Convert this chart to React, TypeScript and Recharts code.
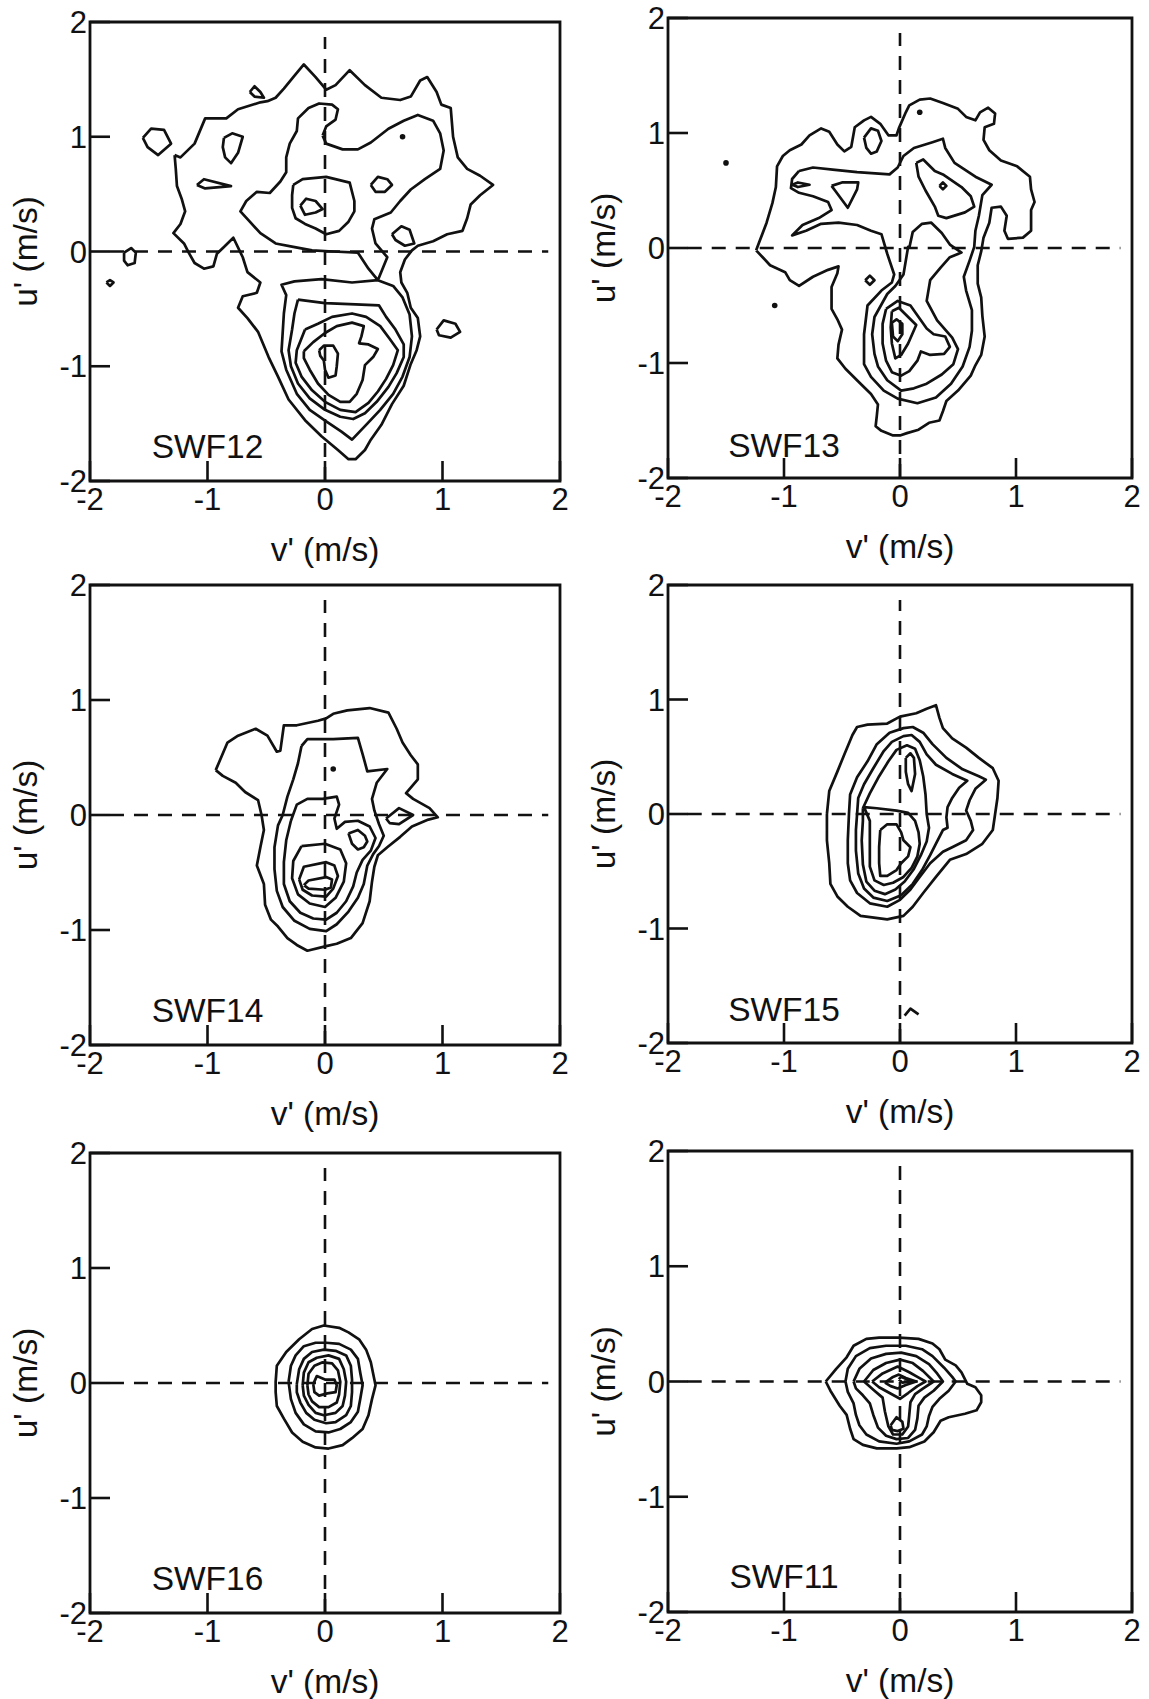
import React from "react";
import {
  ScatterChart,
  Scatter,
  XAxis,
  YAxis,
  ReferenceLine,
  ReferenceArea,
  ReferenceDot,
} from "recharts";

type Pt = [number, number];

const TICKS = [-2, -1, 0, 1, 2];
const FONT = "'Liberation Sans', Arial, Helvetica, sans-serif";
const INK = "#111";

// ---------- SWF12 ----------
const swf12Outer: Pt[] = [
  [-1.28, 0.84], [-1.23, 0.82], [-1.11, 0.94], [-1.02, 1.16], [-0.84, 1.16], [-0.74, 1.24],
  [-0.55, 1.3], [-0.49, 1.31], [-0.42, 1.34], [-0.35, 1.42], [-0.27, 1.52], [-0.18, 1.63],
  [-0.08, 1.52], [0.01, 1.41], [0.09, 1.45], [0.21, 1.58], [0.34, 1.45], [0.48, 1.34],
  [0.64, 1.32], [0.73, 1.35], [0.81, 1.49], [0.87, 1.52], [0.95, 1.39], [0.99, 1.28],
  [1.07, 1.25], [1.09, 1.0], [1.13, 0.82], [1.21, 0.72], [1.32, 0.66], [1.43, 0.58],
  [1.32, 0.49], [1.24, 0.41], [1.21, 0.29], [1.17, 0.18], [1.04, 0.15], [0.92, 0.09],
  [0.79, 0.05], [0.74, 0.01], [0.68, -0.07], [0.64, -0.18], [0.65, -0.27], [0.7, -0.36],
  [0.73, -0.49], [0.79, -0.58], [0.81, -0.74], [0.78, -0.86], [0.73, -0.98], [0.67, -1.17],
  [0.57, -1.33], [0.48, -1.51], [0.39, -1.64], [0.34, -1.73], [0.26, -1.81], [0.2, -1.81],
  [0.11, -1.73], [-0.03, -1.61], [-0.17, -1.47], [-0.31, -1.29], [-0.4, -1.09], [-0.48, -0.92],
  [-0.57, -0.7], [-0.66, -0.58], [-0.74, -0.49], [-0.7, -0.39], [-0.58, -0.36], [-0.55, -0.27],
  [-0.66, -0.18], [-0.7, -0.05], [-0.78, 0.12], [-0.86, 0.04], [-0.92, -0.02], [-0.95, -0.13],
  [-1.03, -0.15], [-1.11, -0.1], [-1.16, -0.01], [-1.2, 0.07], [-1.29, 0.16], [-1.23, 0.24],
  [-1.19, 0.35], [-1.22, 0.46], [-1.26, 0.57], [-1.27, 0.72],
];
const swf12Ring2: Pt[] = [
  [-0.02, 1.01], [0.01, 1.09], [0.09, 1.15], [0.11, 1.24], [0.06, 1.28], [-0.05, 1.29],
  [-0.14, 1.25], [-0.23, 1.16], [-0.24, 1.05], [-0.3, 0.94], [-0.33, 0.82], [-0.33, 0.69],
  [-0.38, 0.61], [-0.47, 0.51], [-0.58, 0.52], [-0.67, 0.44], [-0.72, 0.35], [-0.64, 0.26],
  [-0.55, 0.16], [-0.42, 0.07], [-0.27, 0.04], [-0.11, 0.01], [0.07, 0.0], [0.28, -0.01],
  [0.37, -0.15], [0.45, -0.25], [0.58, -0.3], [0.66, -0.4], [0.72, -0.55], [0.74, -0.74],
  [0.72, -0.92], [0.66, -1.09], [0.58, -1.24], [0.47, -1.38], [0.36, -1.5], [0.23, -1.64],
  [0.14, -1.57], [0.01, -1.48], [-0.13, -1.38], [-0.24, -1.24], [-0.33, -1.03], [-0.37, -0.87],
  [-0.35, -0.54], [-0.33, -0.38], [-0.37, -0.29], [-0.26, -0.26], [-0.03, -0.24], [0.23, -0.27],
  [0.45, -0.25], [0.53, -0.05], [0.43, 0.07], [0.4, 0.2], [0.42, 0.28], [0.56, 0.34],
  [0.64, 0.44], [0.73, 0.54], [0.85, 0.63], [0.98, 0.72], [1.01, 0.88], [0.98, 1.03],
  [0.92, 1.14], [0.79, 1.19], [0.67, 1.14], [0.54, 1.07], [0.39, 0.95], [0.28, 0.89],
  [0.15, 0.89], [0.01, 0.94],
];
const swf12UpperRing: Pt[] = [
  [-0.27, 0.58], [-0.19, 0.63], [0.01, 0.65], [0.21, 0.6], [0.25, 0.44], [0.25, 0.35],
  [0.2, 0.26], [0.12, 0.18], [0.01, 0.15], [-0.08, 0.2], [-0.17, 0.24], [-0.25, 0.29],
  [-0.28, 0.38], [-0.28, 0.49],
];
const swf12UpperCore: Pt[] = [
  [-0.21, 0.4], [-0.16, 0.46], [-0.08, 0.44], [-0.02, 0.37], [-0.08, 0.34], [-0.17, 0.32],
];
const swf12Ring3: Pt[] = [
  [-0.23, -0.42], [0.0, -0.45], [0.26, -0.46], [0.46, -0.47], [0.52, -0.57], [0.6, -0.68],
  [0.67, -0.81], [0.67, -0.92], [0.61, -1.06], [0.54, -1.18], [0.44, -1.31], [0.34, -1.41],
  [0.24, -1.46], [0.13, -1.44], [0.0, -1.38], [-0.13, -1.28], [-0.23, -1.15], [-0.29, -1.0],
  [-0.31, -0.86], [-0.28, -0.68], [-0.26, -0.54],
];
const swf12Ring4: Pt[] = [
  [-0.17, -0.68], [-0.06, -0.63], [0.06, -0.57], [0.23, -0.54], [0.35, -0.57], [0.47, -0.65],
  [0.55, -0.76], [0.62, -0.86], [0.58, -0.99], [0.52, -1.11], [0.45, -1.22], [0.37, -1.32],
  [0.26, -1.4], [0.13, -1.38], [0.0, -1.31], [-0.11, -1.21], [-0.2, -1.09], [-0.25, -0.97],
  [-0.24, -0.86],
];
const swf12Ring5: Pt[] = [
  [-0.18, -0.87], [-0.1, -0.79], [0.0, -0.71], [0.1, -0.65], [0.23, -0.62], [0.33, -0.65],
  [0.31, -0.74], [0.29, -0.8], [0.37, -0.81], [0.45, -0.85], [0.41, -0.92], [0.34, -0.99],
  [0.32, -1.12], [0.27, -1.24], [0.21, -1.31], [0.13, -1.31], [0.03, -1.25], [-0.06, -1.15],
  [-0.13, -1.03], [-0.18, -0.93],
];
const swf12Core: Pt[] = [
  [-0.05, -0.86], [-0.01, -0.82], [0.07, -0.82], [0.11, -0.89], [0.1, -1.0], [0.09, -1.08],
  [0.03, -1.1], [0.0, -1.03], [-0.01, -0.95], [-0.04, -0.91],
];
const swf12Islands: Pt[][] = [
  [[-1.55, 0.99], [-1.48, 1.07], [-1.37, 1.06], [-1.31, 0.94], [-1.42, 0.84], [-1.51, 0.91]],
  [[-0.86, 0.99], [-0.79, 1.03], [-0.7, 1.0], [-0.74, 0.86], [-0.8, 0.77], [-0.85, 0.82], [-0.87, 0.91]],
  [[-0.64, 1.39], [-0.6, 1.44], [-0.55, 1.39], [-0.52, 1.34], [-0.6, 1.35]],
  [[-1.09, 0.58], [-1.03, 0.63], [-0.8, 0.57], [-1.02, 0.55]],
  [[-1.71, -0.01], [-1.65, 0.03], [-1.61, -0.01], [-1.62, -0.1], [-1.68, -0.12], [-1.71, -0.08]],
  [[-1.86, -0.27], [-1.83, -0.25], [-1.8, -0.27], [-1.83, -0.3]],
  [[0.39, 0.58], [0.45, 0.65], [0.53, 0.63], [0.57, 0.58], [0.51, 0.52], [0.43, 0.52]],
  [[0.57, 0.15], [0.65, 0.22], [0.72, 0.19], [0.76, 0.07], [0.68, 0.05], [0.6, 0.1]],
  [[0.95, -0.68], [1.01, -0.6], [1.11, -0.63], [1.15, -0.7], [1.07, -0.75], [0.97, -0.73]],
];
const swf12Dots: Pt[] = [[0.66, 1.0]];

// ---------- SWF13 ----------
const swf13Outer: Pt[] = [
  [-1.24, -0.02], [-1.21, 0.06], [-1.15, 0.22], [-1.1, 0.39], [-1.07, 0.53], [-1.06, 0.71],
  [-1.01, 0.8], [-0.95, 0.85], [-0.85, 0.9], [-0.78, 0.98], [-0.68, 1.04], [-0.61, 1.01],
  [-0.54, 0.9], [-0.48, 0.84], [-0.42, 0.88], [-0.39, 1.05], [-0.31, 1.11], [-0.25, 1.14],
  [-0.17, 1.08], [-0.1, 0.98], [-0.03, 0.98], [-0.01, 1.04], [0.05, 1.18], [0.08, 1.24],
  [0.17, 1.29], [0.26, 1.3], [0.37, 1.26], [0.5, 1.21], [0.57, 1.14], [0.65, 1.11],
  [0.69, 1.18], [0.76, 1.22], [0.82, 1.17], [0.81, 1.08], [0.73, 1.05], [0.72, 0.94],
  [0.77, 0.85], [0.87, 0.76], [1.01, 0.71], [1.12, 0.62], [1.13, 0.51], [1.16, 0.4],
  [1.13, 0.33], [1.13, 0.15], [1.06, 0.09], [0.93, 0.08], [0.9, 0.15], [0.92, 0.28],
  [0.87, 0.36], [0.79, 0.35], [0.77, 0.22], [0.72, 0.09], [0.7, -0.03], [0.67, -0.15],
  [0.67, -0.31], [0.7, -0.43], [0.71, -0.59], [0.73, -0.77], [0.7, -0.93], [0.65, -1.02],
  [0.61, -1.11], [0.5, -1.24], [0.4, -1.33], [0.37, -1.42], [0.34, -1.5], [0.25, -1.52],
  [0.16, -1.58], [0.06, -1.61], [0.0, -1.63], [-0.06, -1.63], [-0.16, -1.59], [-0.21, -1.55],
  [-0.2, -1.46], [-0.19, -1.36], [-0.25, -1.27], [-0.34, -1.18], [-0.47, -1.05], [-0.54, -0.96],
  [-0.53, -0.84], [-0.5, -0.71], [-0.54, -0.62], [-0.59, -0.53], [-0.59, -0.34], [-0.54, -0.22],
  [-0.53, -0.16], [-0.62, -0.19], [-0.75, -0.25], [-0.87, -0.33], [-0.95, -0.28], [-0.99, -0.21],
  [-1.12, -0.15],
];
const swf13Ring2: Pt[] = [
  [-0.87, 0.67], [-0.75, 0.7], [-0.56, 0.68], [-0.37, 0.66], [-0.09, 0.64], [-0.02, 0.7],
  [0.03, 0.8], [0.12, 0.87], [0.28, 0.92], [0.37, 0.95], [0.39, 0.87], [0.47, 0.74],
  [0.65, 0.62], [0.79, 0.55], [0.71, 0.46], [0.68, 0.28], [0.65, 0.15], [0.64, 0.01],
  [0.6, -0.11], [0.55, -0.25], [0.57, -0.37], [0.62, -0.54], [0.62, -0.72], [0.6, -0.86],
  [0.54, -1.03], [0.44, -1.18], [0.31, -1.3], [0.15, -1.35], [-0.02, -1.31], [-0.14, -1.24],
  [-0.25, -1.12], [-0.31, -1.01], [-0.31, -0.75], [-0.28, -0.5], [-0.16, -0.37], [-0.07, -0.3],
  [-0.05, -0.23], [-0.11, -0.05], [-0.16, 0.12], [-0.25, 0.15], [-0.37, 0.2], [-0.53, 0.22],
  [-0.68, 0.21], [-0.81, 0.15], [-0.93, 0.11], [-0.84, 0.2], [-0.7, 0.26], [-0.59, 0.33],
  [-0.62, 0.4], [-0.75, 0.45], [-0.87, 0.48], [-0.94, 0.52], [-0.93, 0.6],
];
const swf13UpperRight: Pt[] = [
  [0.14, 0.74], [0.2, 0.77], [0.3, 0.67], [0.37, 0.64], [0.53, 0.53], [0.61, 0.45],
  [0.64, 0.36], [0.56, 0.31], [0.4, 0.26], [0.33, 0.28], [0.3, 0.36], [0.22, 0.5], [0.16, 0.62],
];
const swf13Ring3: Pt[] = [
  [0.08, 0.0], [0.11, 0.14], [0.19, 0.21], [0.27, 0.22], [0.36, 0.13], [0.43, 0.03],
  [0.53, -0.04], [0.43, -0.08], [0.35, -0.17], [0.26, -0.28], [0.23, -0.46], [0.32, -0.63],
  [0.45, -0.78], [0.5, -0.88], [0.46, -1.01], [0.36, -1.1], [0.23, -1.18], [0.12, -1.22],
  [0.01, -1.24], [-0.11, -1.15], [-0.19, -1.03], [-0.22, -0.92], [-0.24, -0.75], [-0.22, -0.6],
  [-0.11, -0.4], [-0.04, -0.33], [0.03, -0.23], [0.07, 0.01],
];
const swf13Heart: Pt[] = [
  [-0.12, -0.53], [-0.02, -0.46], [0.09, -0.5], [0.16, -0.6], [0.23, -0.7], [0.29, -0.75],
  [0.39, -0.77], [0.43, -0.86], [0.38, -0.92], [0.26, -0.93], [0.18, -0.9], [0.15, -0.98],
  [0.08, -1.07], [0.01, -1.11], [-0.07, -1.08], [-0.12, -0.98], [-0.15, -0.83], [-0.15, -0.66],
];
const swf13Tri: Pt[] = [
  [-0.07, -0.55], [-0.01, -0.52], [0.14, -0.67], [0.07, -0.83], [0.01, -0.93], [-0.04, -0.96],
  [-0.07, -0.83], [-0.08, -0.69],
];
const swf13Core: Pt[] = [
  [-0.07, -0.65], [-0.03, -0.62], [0.02, -0.66], [0.02, -0.75], [-0.02, -0.81], [-0.06, -0.77],
];
const swf13Islands: Pt[][] = [
  [[0.34, 0.54], [0.37, 0.57], [0.4, 0.54], [0.37, 0.51]],
  [[-0.59, 0.54], [-0.5, 0.57], [-0.36, 0.57], [-0.37, 0.51], [-0.45, 0.35], [-0.56, 0.5]],
  [[-0.93, 0.55], [-0.88, 0.57], [-0.78, 0.55], [-0.88, 0.53]],
  [[-0.31, 0.96], [-0.25, 1.04], [-0.19, 1.02], [-0.16, 0.93], [-0.2, 0.84], [-0.25, 0.82], [-0.29, 0.87]],
  [[-0.3, -0.28], [-0.26, -0.24], [-0.22, -0.28], [-0.26, -0.32]],
];
const swf13Dots: Pt[] = [[-1.5, 0.74], [-1.08, -0.5], [0.17, 1.18]];

// ---------- SWF14 ----------
const swf14Outer: Pt[] = [
  [-0.93, 0.39], [-0.83, 0.63], [-0.74, 0.69], [-0.59, 0.75], [-0.49, 0.69], [-0.41, 0.55],
  [-0.38, 0.56], [-0.35, 0.78], [-0.24, 0.78], [-0.06, 0.82], [0.01, 0.84], [0.07, 0.88],
  [0.19, 0.91], [0.38, 0.93], [0.54, 0.89], [0.61, 0.75], [0.66, 0.63], [0.73, 0.52],
  [0.79, 0.44], [0.79, 0.31], [0.69, 0.19], [0.75, 0.14], [0.89, 0.06], [0.96, -0.02],
  [0.88, -0.04], [0.74, -0.1], [0.64, -0.19], [0.53, -0.28], [0.45, -0.35], [0.42, -0.45],
  [0.4, -0.58], [0.38, -0.75], [0.32, -0.94], [0.22, -1.07], [0.1, -1.12], [0.01, -1.14],
  [-0.15, -1.18], [-0.24, -1.13], [-0.32, -1.07], [-0.4, -0.97], [-0.46, -0.91], [-0.51, -0.78],
  [-0.52, -0.6], [-0.58, -0.44], [-0.55, -0.28], [-0.52, -0.13], [-0.54, 0.0], [-0.57, 0.13],
  [-0.68, 0.2], [-0.76, 0.28], [-0.87, 0.34],
];
const swf14Ring2: Pt[] = [
  [-0.2, 0.6], [-0.15, 0.66], [0.07, 0.66], [0.28, 0.67], [0.32, 0.53], [0.36, 0.38],
  [0.53, 0.4], [0.44, 0.28], [0.4, 0.14], [0.42, 0.04], [0.46, -0.08], [0.5, -0.18],
  [0.46, -0.27], [0.41, -0.34], [0.36, -0.44], [0.33, -0.6], [0.28, -0.72], [0.2, -0.84],
  [0.1, -0.95], [0.01, -1.01], [-0.13, -0.99], [-0.26, -0.92], [-0.36, -0.8], [-0.41, -0.66],
  [-0.43, -0.47], [-0.43, -0.28], [-0.4, -0.09], [-0.36, 0.0], [-0.32, 0.16], [-0.27, 0.31],
  [-0.23, 0.45],
];
const swf14Ring3: Pt[] = [
  [-0.29, -0.05], [-0.24, 0.09], [-0.15, 0.14], [-0.02, 0.14], [0.1, 0.16], [0.12, 0.09],
  [0.08, -0.03], [0.1, -0.12], [0.17, -0.06], [0.28, -0.05], [0.38, -0.1], [0.43, -0.2],
  [0.39, -0.31], [0.32, -0.39], [0.27, -0.5], [0.24, -0.62], [0.18, -0.75], [0.1, -0.85],
  [0.01, -0.91], [-0.1, -0.9], [-0.21, -0.85], [-0.3, -0.75], [-0.35, -0.6], [-0.35, -0.41],
  [-0.33, -0.22],
];
const swf14Ring4: Pt[] = [
  [-0.2, -0.27], [0.0, -0.25], [0.13, -0.3], [0.18, -0.42], [0.16, -0.58], [0.09, -0.72],
  [0.0, -0.8], [-0.13, -0.77], [-0.23, -0.69], [-0.28, -0.55], [-0.27, -0.4],
];
const swf14Ring5: Pt[] = [
  [-0.22, -0.56], [-0.18, -0.45], [0.01, -0.41], [0.08, -0.44], [0.11, -0.53], [0.07, -0.64],
  [0.01, -0.71], [-0.11, -0.7], [-0.19, -0.65],
];
const swf14Core: Pt[] = [
  [-0.18, -0.61], [-0.14, -0.57], [0.01, -0.54], [0.06, -0.56], [0.05, -0.63], [0.0, -0.65],
  [-0.14, -0.64],
];
const swf14Islands: Pt[][] = [
  [[0.52, -0.03], [0.63, 0.06], [0.75, 0.0], [0.63, -0.08], [0.55, -0.07]],
  [[0.2, -0.16], [0.28, -0.13], [0.34, -0.18], [0.36, -0.23], [0.33, -0.28], [0.28, -0.3], [0.23, -0.25]],
];
const swf14Dots: Pt[] = [[0.07, 0.4]];

// ---------- SWF15 ----------
const swf15Outer: Pt[] = [
  [-0.63, 0.0], [-0.61, 0.2], [-0.54, 0.37], [-0.48, 0.52], [-0.41, 0.69], [-0.37, 0.76],
  [-0.28, 0.78], [-0.11, 0.79], [0.0, 0.85], [0.14, 0.88], [0.23, 0.92], [0.31, 0.95],
  [0.34, 0.84], [0.37, 0.75], [0.45, 0.66], [0.57, 0.58], [0.68, 0.49], [0.8, 0.4],
  [0.85, 0.29], [0.84, 0.14], [0.82, 0.0], [0.8, -0.14], [0.71, -0.26], [0.57, -0.35],
  [0.43, -0.4], [0.31, -0.55], [0.2, -0.69], [0.11, -0.81], [0.03, -0.89], [-0.11, -0.92],
  [-0.34, -0.89], [-0.45, -0.81], [-0.54, -0.72], [-0.6, -0.61], [-0.61, -0.43], [-0.63, -0.23],
];
const swf15Ring2: Pt[] = [
  [-0.44, 0.0], [-0.43, 0.17], [-0.37, 0.32], [-0.28, 0.46], [-0.2, 0.61], [-0.09, 0.71],
  [0.03, 0.75], [0.11, 0.76], [0.2, 0.71], [0.28, 0.61], [0.4, 0.49], [0.54, 0.39],
  [0.68, 0.33], [0.74, 0.3], [0.65, 0.22], [0.6, 0.12], [0.57, 0.03], [0.61, -0.06],
  [0.63, -0.14], [0.57, -0.23], [0.45, -0.29], [0.37, -0.33], [0.26, -0.43], [0.17, -0.55],
  [0.09, -0.66], [0.0, -0.75], [-0.11, -0.81], [-0.26, -0.78], [-0.37, -0.69], [-0.43, -0.58],
  [-0.45, -0.43], [-0.45, -0.23],
];
const swf15Ring3: Pt[] = [
  [-0.37, 0.0], [-0.36, 0.14], [-0.31, 0.26], [-0.23, 0.4], [-0.14, 0.55], [-0.07, 0.63],
  [0.03, 0.68], [0.1, 0.69], [0.17, 0.63], [0.23, 0.52], [0.31, 0.43], [0.45, 0.35],
  [0.58, 0.29], [0.51, 0.23], [0.45, 0.14], [0.41, 0.06], [0.4, -0.03], [0.41, -0.12],
  [0.37, -0.14], [0.32, -0.24], [0.26, -0.36], [0.19, -0.49], [0.11, -0.61], [0.01, -0.71],
  [-0.11, -0.76], [-0.23, -0.73], [-0.31, -0.65], [-0.36, -0.52], [-0.38, -0.32], [-0.38, -0.14],
];
const swf15Ring4: Pt[] = [
  [-0.32, 0.05], [-0.26, 0.18], [-0.18, 0.33], [-0.1, 0.46], [-0.03, 0.56], [0.06, 0.6],
  [0.13, 0.57], [0.17, 0.47], [0.2, 0.33], [0.22, 0.17], [0.23, 0.0], [0.25, -0.12],
  [0.23, -0.24], [0.18, -0.36], [0.12, -0.48], [0.04, -0.59], [-0.04, -0.66], [-0.13, -0.7],
  [-0.22, -0.67], [-0.29, -0.59], [-0.32, -0.44], [-0.33, -0.23], [-0.32, -0.06],
];
const swf15Ring5: Pt[] = [
  [-0.31, 0.06], [-0.2, 0.05], [-0.03, 0.03], [0.07, 0.01], [0.13, -0.06], [0.16, -0.16],
  [0.17, -0.26], [0.15, -0.37], [0.1, -0.47], [0.03, -0.55], [-0.06, -0.6], [-0.14, -0.62],
  [-0.22, -0.58], [-0.26, -0.46], [-0.26, -0.32], [-0.26, -0.17], [-0.26, -0.06],
];
const swf15Core: Pt[] = [
  [-0.17, -0.14], [-0.11, -0.09], [-0.03, -0.09], [0.01, -0.16], [0.03, -0.23], [0.09, -0.29],
  [0.07, -0.37], [0.01, -0.43], [-0.03, -0.49], [-0.11, -0.54], [-0.17, -0.54], [-0.18, -0.43],
  [-0.18, -0.29],
];
const swf15UpperCore: Pt[] = [
  [0.05, 0.49], [0.09, 0.53], [0.12, 0.49], [0.13, 0.35], [0.1, 0.2], [0.07, 0.26], [0.05, 0.37],
];
const swf15Caret: Pt[] = [[0.04, -1.76], [0.09, -1.7], [0.16, -1.75]];

// ---------- SWF16 ----------
const swf16Outer: Pt[] = [
  [-0.42, 0.01], [-0.41, 0.15], [-0.33, 0.27], [-0.22, 0.38], [-0.11, 0.47], [-0.01, 0.5],
  [0.12, 0.48], [0.2, 0.44], [0.29, 0.38], [0.35, 0.29], [0.39, 0.18], [0.42, 0.03],
  [0.43, -0.02], [0.4, -0.14], [0.37, -0.28], [0.32, -0.4], [0.23, -0.48], [0.15, -0.54],
  [0.03, -0.57], [-0.08, -0.56], [-0.19, -0.51], [-0.28, -0.43], [-0.35, -0.31], [-0.41, -0.2],
  [-0.42, -0.08],
];
const swf16Ring2: Pt[] = [
  [-0.31, 0.01], [-0.29, 0.15], [-0.25, 0.24], [-0.18, 0.32], [-0.08, 0.35], [0.01, 0.35],
  [0.12, 0.34], [0.22, 0.29], [0.28, 0.21], [0.3, 0.09], [0.32, -0.02], [0.3, -0.14],
  [0.28, -0.25], [0.22, -0.34], [0.13, -0.4], [0.03, -0.43], [-0.08, -0.42], [-0.18, -0.36],
  [-0.25, -0.26], [-0.29, -0.14],
];
const swf16Ring3: Pt[] = [
  [-0.24, -0.01], [-0.22, 0.12], [-0.18, 0.21], [-0.11, 0.27], [-0.01, 0.29], [0.09, 0.28],
  [0.18, 0.24], [0.22, 0.15], [0.23, 0.03], [0.23, -0.08], [0.22, -0.2], [0.18, -0.28],
  [0.09, -0.34], [0.01, -0.35], [-0.09, -0.32], [-0.16, -0.26], [-0.21, -0.17], [-0.24, -0.08],
];
const swf16Ring4: Pt[] = [
  [-0.19, -0.02], [-0.18, 0.09], [-0.14, 0.18], [-0.07, 0.22], [0.03, 0.24], [0.12, 0.21],
  [0.16, 0.12], [0.18, 0.01], [0.17, -0.11], [0.15, -0.2], [0.09, -0.26], [-0.01, -0.28],
  [-0.08, -0.26], [-0.14, -0.19], [-0.18, -0.11],
];
const swf16Ring5: Pt[] = [
  [-0.15, -0.02], [-0.14, 0.08], [-0.09, 0.15], [-0.02, 0.18], [0.06, 0.17], [0.11, 0.11],
  [0.13, 0.01], [0.12, -0.1], [0.1, -0.17], [0.03, -0.21], [-0.05, -0.21], [-0.11, -0.16],
  [-0.14, -0.1],
];
const swf16Core: Pt[] = [
  [-0.1, -0.01], [-0.07, 0.06], [0.0, 0.03], [0.08, 0.03], [0.1, -0.02], [0.09, -0.08],
  [0.02, -0.09], [-0.05, -0.11], [-0.09, -0.08],
];

// ---------- SWF11 ----------
const swf11Outer: Pt[] = [
  [-0.64, 0.0], [-0.55, 0.11], [-0.46, 0.21], [-0.4, 0.31], [-0.29, 0.37], [-0.18, 0.38],
  [-0.01, 0.38], [0.16, 0.37], [0.28, 0.33], [0.34, 0.28], [0.39, 0.19], [0.48, 0.14],
  [0.53, 0.08], [0.58, -0.02], [0.65, -0.05], [0.7, -0.12], [0.7, -0.18], [0.66, -0.25],
  [0.56, -0.28], [0.42, -0.31], [0.35, -0.34], [0.29, -0.44], [0.21, -0.52], [0.08, -0.57],
  [-0.03, -0.58], [-0.2, -0.58], [-0.32, -0.55], [-0.4, -0.5], [-0.43, -0.41], [-0.46, -0.29],
  [-0.52, -0.21], [-0.6, -0.08],
];
const swf11Ring2: Pt[] = [
  [-0.47, 0.0], [-0.45, 0.11], [-0.38, 0.22], [-0.26, 0.29], [-0.12, 0.31], [0.05, 0.31],
  [0.19, 0.28], [0.28, 0.22], [0.38, 0.12], [0.45, 0.04], [0.48, 0.0], [0.42, -0.08],
  [0.34, -0.15], [0.28, -0.22], [0.25, -0.3], [0.23, -0.39], [0.19, -0.46], [0.08, -0.52],
  [-0.03, -0.54], [-0.18, -0.52], [-0.29, -0.46], [-0.35, -0.38], [-0.38, -0.29], [-0.4, -0.19],
  [-0.45, -0.09],
];
const swf11Ring3: Pt[] = [
  [-0.4, 0.0], [-0.35, 0.11], [-0.25, 0.2], [-0.12, 0.24], [0.01, 0.25], [0.14, 0.22],
  [0.25, 0.15], [0.32, 0.07], [0.37, 0.0], [0.29, -0.08], [0.21, -0.14], [0.16, -0.21],
  [0.15, -0.32], [0.13, -0.42], [0.07, -0.49], [-0.03, -0.5], [-0.12, -0.47], [-0.19, -0.4],
  [-0.23, -0.29], [-0.26, -0.19], [-0.32, -0.12], [-0.38, -0.06],
];
const swf11Ring4: Pt[] = [
  [-0.31, 0.0], [-0.23, 0.1], [-0.12, 0.16], [0.0, 0.19], [0.11, 0.16], [0.2, 0.09],
  [0.29, 0.0], [0.2, -0.06], [0.13, -0.11], [0.09, -0.18], [0.08, -0.29], [0.07, -0.39],
  [0.02, -0.46], [-0.06, -0.46], [-0.1, -0.39], [-0.13, -0.26], [-0.15, -0.14], [-0.22, -0.08],
];
const swf11Ring5: Pt[] = [
  [-0.24, 0.0], [-0.15, 0.07], [-0.02, 0.13], [0.08, 0.08], [0.15, 0.04], [0.22, 0.0],
  [0.15, -0.04], [0.07, -0.1], [0.0, -0.15], [-0.09, -0.1], [-0.18, -0.05],
];
const swf11Core: Pt[] = [
  [-0.13, -0.01], [-0.06, 0.04], [-0.01, 0.06], [0.05, 0.03], [0.14, 0.0], [0.05, -0.03],
  [-0.02, -0.06], [-0.08, -0.04],
];
const swf11Inner: Pt[] = [[-0.01, 0.02], [0.01, 0.04], [0.1, 0.0], [0.02, -0.01]];
const swf11Lower: Pt[] = [
  [-0.08, -0.38], [-0.03, -0.31], [0.02, -0.35], [0.03, -0.41], [-0.02, -0.43], [-0.07, -0.42],
];

type PanelSpec = {
  name: string;
  plotLeft: number;
  plotTop: number;
  plotW: number;
  plotH: number;
  labelAt: Pt;
  contours: Pt[][];
  open?: Pt[][];
  dots?: Pt[];
};

const panels: PanelSpec[] = [
  {
    name: "SWF12", plotLeft: 90, plotTop: 22, plotW: 470, plotH: 459, labelAt: [-1.0, -1.7],
    contours: [swf12Outer, swf12Ring2, swf12UpperRing, swf12UpperCore, swf12Ring3, swf12Ring4,
      swf12Ring5, swf12Core, ...swf12Islands],
    dots: swf12Dots,
  },
  {
    name: "SWF13", plotLeft: 668, plotTop: 18, plotW: 464, plotH: 460, labelAt: [-1.0, -1.71],
    contours: [swf13Outer, swf13Ring2, swf13UpperRight, swf13Ring3, swf13Heart, swf13Tri,
      swf13Core, ...swf13Islands],
    dots: swf13Dots,
  },
  {
    name: "SWF14", plotLeft: 90, plotTop: 585, plotW: 470, plotH: 460, labelAt: [-1.0, -1.7],
    contours: [swf14Outer, swf14Ring2, swf14Ring3, swf14Ring4, swf14Ring5, swf14Core, ...swf14Islands],
    dots: swf14Dots,
  },
  {
    name: "SWF15", plotLeft: 668, plotTop: 585, plotW: 464, plotH: 458, labelAt: [-1.0, -1.7],
    contours: [swf15Outer, swf15Ring2, swf15Ring3, swf15Ring4, swf15Ring5, swf15Core, swf15UpperCore],
    open: [swf15Caret],
  },
  {
    name: "SWF16", plotLeft: 90, plotTop: 1153, plotW: 470, plotH: 460, labelAt: [-1.0, -1.7],
    contours: [swf16Outer, swf16Ring2, swf16Ring3, swf16Ring4, swf16Ring5, swf16Core],
  },
  {
    name: "SWF11", plotLeft: 668, plotTop: 1151, plotW: 464, plotH: 461, labelAt: [-1.0, -1.69],
    contours: [swf11Outer, swf11Ring2, swf11Ring3, swf11Ring4, swf11Ring5, swf11Core, swf11Inner,
      swf11Lower],
  },
];

const toXY = (pts: Pt[], close: boolean) =>
  (close ? [...pts, pts[0]] : pts).map(([x, y]) => ({ x, y }));

const lineStyle = { stroke: INK, strokeWidth: 2.7, strokeLinejoin: "round" as const };
const noMarker = () => <g />;
const dotMarker = (props: any) => <circle cx={props.cx} cy={props.cy} r={2.8} fill={INK} />;

const tickStyle = { fill: INK, fontSize: 31, fontFamily: FONT };
const tickLine = { stroke: INK, strokeWidth: 2.6 };

const Panel = ({ p }: { p: PanelSpec }) => {
  const width = p.plotW + 105;
  const height = p.plotH + 114;
  return (
    <div style={{ position: "absolute", left: p.plotLeft - 90, top: p.plotTop - 22 }}>
      <ScatterChart
        width={width}
        height={height}
        margin={{ top: 22, right: 15, bottom: 12, left: 20 }}
      >
        <XAxis
          type="number"
          dataKey="x"
          domain={[-2, 2]}
          ticks={TICKS}
          interval={0}
          axisLine={false}
          tickSize={-20}
          tickMargin={27}
          tickLine={tickLine}
          tick={tickStyle}
          height={80}
          label={{
            value: "v' (m/s)",
            position: "insideBottom",
            offset: 0,
            fill: INK,
            fontSize: 33.5,
            fontFamily: FONT,
          }}
        />
        <YAxis
          type="number"
          dataKey="y"
          domain={[-2, 2]}
          ticks={TICKS}
          interval={0}
          axisLine={false}
          tickSize={-20}
          tickMargin={23}
          tickLine={tickLine}
          tick={tickStyle}
          width={70}
          label={{
            value: "u' (m/s)",
            angle: -90,
            position: "insideLeft",
            offset: 5,
            fill: INK,
            fontSize: 33.5,
            fontFamily: FONT,
            style: { textAnchor: "middle" },
          }}
        />
        <ReferenceArea x1={-2} x2={2} y1={-2} y2={2} fill="none" stroke={INK} strokeWidth={2.8} />
        <ReferenceLine
          segment={[{ x: 0, y: -2 }, { x: 0, y: 1.87 }]}
          stroke={INK}
          strokeWidth={2.6}
          strokeDasharray="14 10"
        />
        <ReferenceLine
          segment={[{ x: -1.83, y: 0 }, { x: 1.9, y: 0 }]}
          stroke={INK}
          strokeWidth={2.6}
          strokeDasharray="14 10"
        />
        {p.contours.map((c, i) => (
          <Scatter
            key={`c${i}`}
            data={toXY(c, true)}
            line={lineStyle}
            lineType="joint"
            shape={noMarker}
            isAnimationActive={false}
          />
        ))}
        {(p.open || []).map((c, i) => (
          <Scatter
            key={`o${i}`}
            data={toXY(c, false)}
            line={lineStyle}
            lineType="joint"
            shape={noMarker}
            isAnimationActive={false}
          />
        ))}
        {p.dots && (
          <Scatter
            data={toXY(p.dots, false)}
            shape={dotMarker}
            isAnimationActive={false}
          />
        )}
        <ReferenceDot
          x={p.labelAt[0]}
          y={p.labelAt[1]}
          r={0}
          fill="none"
          stroke="none"
          label={{ value: p.name, position: "center", fill: INK, fontSize: 33.5, fontFamily: FONT }}
        />
      </ScatterChart>
    </div>
  );
};

export default function App() {
  return (
    <div
      style={{
        position: "absolute",
        left: 0,
        top: 0,
        width: 1149,
        height: 1699,
        overflow: "hidden",
        background: "#fff",
      }}
    >
      {panels.map((p) => (
        <Panel key={p.name} p={p} />
      ))}
    </div>
  );
}
